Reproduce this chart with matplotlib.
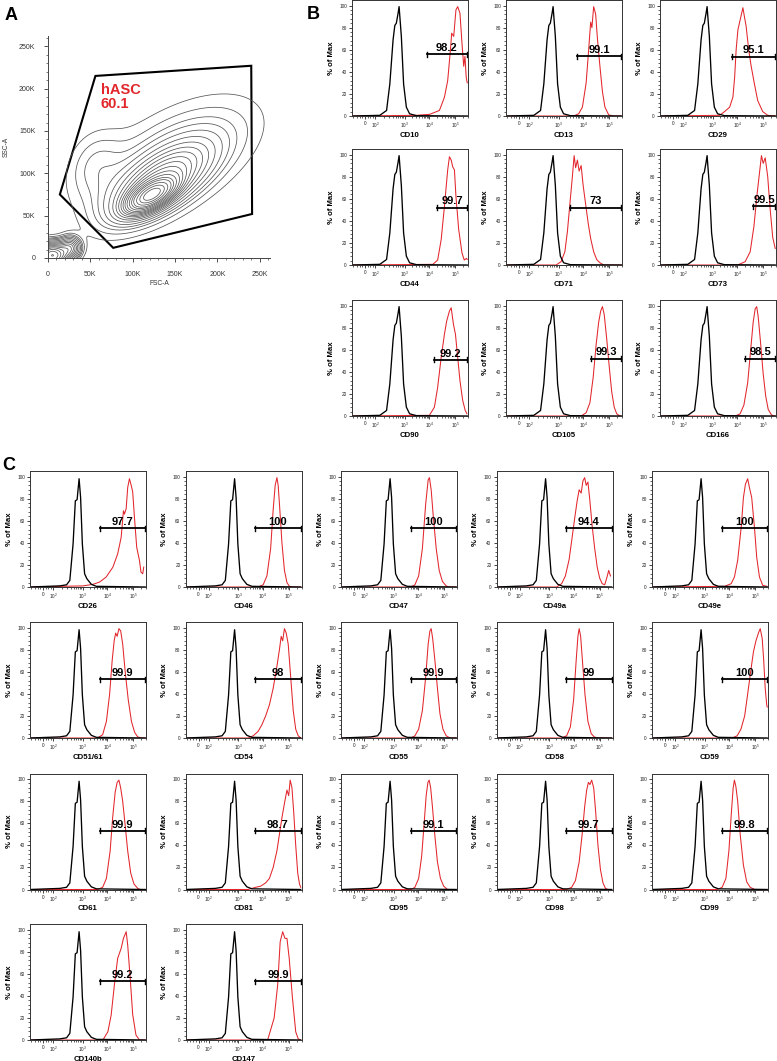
import matplotlib
matplotlib.use("Agg")
import matplotlib.pyplot as plt
import numpy as np

plt.rcParams['font.family'] = ['Liberation Sans', 'DejaVu Sans']
plt.rcParams['mathtext.fontset'] = 'custom'
plt.rcParams['mathtext.rm'] = 'Liberation Sans'
plt.rcParams['mathtext.it'] = 'Liberation Sans'

RED = '#e2262c'
W, H = 777, 1061

# ---------------- panel A: FSC/SSC contour -----------------
fsc_ticks = [0, 50000, 100000, 150000, 200000, 250000]
fsc_labels = ['0', '50K', '100K', '150K', '200K', '250K']
gate_fsc = [14000, 56000, 240000, 241000, 77000]
gate_ssc = [75000, 215000, 227000, 52000, 12000]
gate_name = 'hASC\n60.1'

# cell populations (centre, spread, tilt, share)
pop_fsc = [122000, 132000, 150000, 55000, 5000, 26000]
pop_ssc = [74000, 90000, 118000, 110000, 3000, 12000]
pop_sd_fsc = [17000, 35000, 62000, 22000, 11000, 8000]
pop_sd_ssc = [12000, 27000, 45000, 28000, 9000, 8000]
pop_corr = [0.6, 0.65, 0.55, 0.2, 0.0, 0.0]
pop_share = [0.22, 0.36, 0.3, 0.04, 0.1, 0.025]

# ---------------- histogram panels (x in display decades) -----------------
U_LEFT, U_RIGHT = 0.9, 5.5
x_tick_pos = [1.42, 1.83, 3.0, 3.98, 5.03]
x_tick_lab = ['0', '$10^2$', '$10^3$', '$10^4$', '$10^5$']

black_b_u = [0.9, 2.01, 2.28, 2.41, 2.54, 2.61, 2.67, 2.74, 2.78, 2.87, 2.96, 3.07, 3.2, 3.47, 5.5]
black_b_y = [0, 0.6, 5, 29, 69, 82, 84, 93, 99, 72, 29, 8, 2, 0.3, 0]
black_c_u = [0.9, 2.09, 2.36, 2.49, 2.62, 2.71, 2.78, 2.86, 2.92, 2.99, 3.08, 3.17, 3.35, 3.55, 5.5]
black_c_y = [0, 1, 2, 6, 39, 78, 79, 98, 81, 39, 12, 7.5, 2.4, 0.6, 0]

b_names = ['CD10', 'CD13', 'CD29', 'CD44', 'CD71', 'CD73', 'CD90', 'CD105', 'CD166']
b_pct = ['98.2', '99.1', '95.1', '99.7', '73', '99.5', '99.2', '99.3', '98.5']
b_gate_u = [3.88, 3.75, 3.78, 4.29, 3.45, 4.6, 4.16, 4.3, 4.3]
b_gate_y = [55.8, 54, 53.6, 52, 52, 53, 50.8, 52, 52]
b_red_u = [
    [0.9, 3.47, 4.0, 4.39, 4.59, 4.72, 4.83, 4.88, 4.96, 5.05, 5.12, 5.21, 5.29, 5.36, 5.41, 5.46, 5.5],
    [0.9, 3.6, 3.8, 3.95, 4.1, 4.2, 4.28, 4.33, 4.4, 4.48, 4.55, 4.65, 4.75, 4.85, 5.0, 5.2, 5.5],
    [0.9, 3.28, 3.48, 3.68, 3.81, 3.88, 3.94, 4.01, 4.10, 4.21, 4.27, 4.34, 4.44, 4.54, 4.67, 4.80, 5.0, 5.2, 5.5],
    [0.9, 4.13, 4.32, 4.46, 4.59, 4.72, 4.79, 4.86, 4.92, 4.99, 5.05, 5.16, 5.29, 5.38, 5.47, 5.5],
    [0.9, 2.9, 3.1, 3.25, 3.35, 3.45, 3.55, 3.62, 3.68, 3.75, 3.82, 3.9, 3.98, 4.08, 4.18, 4.28, 4.4, 4.52, 4.65, 4.8, 5.5],
    [0.9, 4.0, 4.3, 4.5, 4.65, 4.78, 4.88, 4.95, 5.02, 5.1, 5.2, 5.3, 5.4, 5.5],
    [0.9, 3.99, 4.19, 4.32, 4.46, 4.59, 4.68, 4.79, 4.86, 4.95, 5.03, 5.12, 5.21, 5.32, 5.42, 5.49],
    [0.9, 3.9, 4.1, 4.25, 4.38, 4.5, 4.6, 4.68, 4.75, 4.82, 4.92, 5.02, 5.12, 5.22, 5.32, 5.45, 5.5],
    [0.9, 3.9, 4.1, 4.25, 4.4, 4.52, 4.62, 4.7, 4.76, 4.82, 4.92, 5.02, 5.12, 5.22, 5.35, 5.45, 5.5],
]
b_red_y = [
    [0, 0.6, 1.5, 5, 17, 32, 60, 75, 72, 96, 99, 93, 66, 45, 54, 35, 30],
    [0, 0, 2, 8, 30, 60, 85, 80, 99, 92, 70, 45, 22, 8, 1, 0, 0],
    [0, 0.6, 4, 8, 17, 35, 60, 78, 87, 98, 90, 81, 60, 45, 29, 14, 4, 0.6, 0],
    [0, 0.6, 4.5, 23, 53, 86, 98, 95, 89, 86, 62, 32, 11, 4.5, 6, 5],
    [0, 0, 3, 12, 30, 55, 80, 99, 88, 95, 85, 90, 72, 55, 38, 24, 12, 5, 2, 0, 0],
    [0, 0, 3, 12, 35, 65, 85, 99, 92, 97, 80, 50, 25, 15],
    [0, 0.6, 8, 26, 53, 74, 86, 95, 98, 83, 74, 53, 32, 14, 5, 2],
    [0, 0, 3, 12, 35, 65, 85, 95, 99, 92, 70, 45, 22, 8, 2, 0, 0],
    [0, 0, 2, 10, 30, 60, 85, 97, 99, 90, 65, 38, 18, 6, 1, 0, 0],
]

c_names = ['CD26', 'CD46', 'CD47', 'CD49a', 'CD49e',
           'CD51/61', 'CD54', 'CD55', 'CD58', 'CD59',
           'CD61', 'CD81', 'CD95', 'CD98', 'CD99',
           'CD140b', 'CD147']
c_pct = ['97.7', '100', '100', '94.4', '100',
         '99.9', '98', '99.9', '99', '100',
         '99.9', '98.7', '99.1', '99.7', '99.8',
         '99.2', '99.9']
c_gate_u = [3.68] * 17
c_gate_y = [53] * 17
c_red_u = [
    [0.9, 3.02, 3.41, 3.68, 3.94, 4.21, 4.40, 4.54, 4.63, 4.67, 4.74, 4.80, 4.87, 4.94, 5.00, 5.07, 5.16, 5.27, 5.33, 5.40, 5.44],
    [0.9, 3.8, 4.0, 4.15, 4.3, 4.4, 4.48, 4.55, 4.6, 4.66, 4.75, 4.85, 4.95, 5.05, 5.2, 5.5],
    [0.9, 3.7, 3.85, 4.0, 4.15, 4.28, 4.38, 4.43, 4.5, 4.58, 4.7, 4.82, 4.95, 5.1, 5.2, 5.5],
    [0.9, 3.3, 3.5, 3.65, 3.8, 3.92, 4.02, 4.12, 4.2, 4.28, 4.35, 4.42, 4.48, 4.55, 4.62, 4.72, 4.82, 4.92, 5.02, 5.12, 5.22, 5.3, 5.38, 5.45],
    [0.9, 3.80, 4.06, 4.19, 4.32, 4.46, 4.55, 4.63, 4.72, 4.79, 4.88, 4.99, 5.08, 5.19, 5.32, 5.49],
    [0.9, 3.6, 3.8, 3.95, 4.08, 4.18, 4.26, 4.32, 4.38, 4.45, 4.52, 4.6, 4.7, 4.82, 4.95, 5.08, 5.2, 5.35, 5.5],
    [0.9, 3.4, 3.6, 3.8, 3.95, 4.1, 4.25, 4.4, 4.55, 4.65, 4.72, 4.78, 4.85, 4.92, 5.0, 5.1, 5.2, 5.3, 5.4, 5.5],
    [0.9, 3.7, 3.85, 4.0, 4.15, 4.28, 4.38, 4.45, 4.5, 4.56, 4.65, 4.75, 4.85, 4.97, 5.1, 5.25, 5.5],
    [0.9, 3.5, 3.7, 3.85, 3.98, 4.08, 4.15, 4.2, 4.26, 4.33, 4.43, 4.55, 4.68, 4.8, 4.95, 5.5],
    [0.9, 4.1, 4.3, 4.45, 4.6, 4.72, 4.85, 4.95, 5.05, 5.15, 5.22, 5.3, 5.36, 5.42, 5.48, 5.5],
    [0.9, 3.6, 3.8, 3.95, 4.1, 4.2, 4.3, 4.38, 4.45, 4.52, 4.6, 4.7, 4.8, 4.92, 5.05, 5.2, 5.3, 5.5],
    [0.9, 3.4, 3.7, 3.9, 4.1, 4.25, 4.4, 4.55, 4.65, 4.75, 4.85, 4.95, 5.02, 5.08, 5.15, 5.22, 5.3, 5.38, 5.45, 5.5],
    [0.9, 3.7, 3.85, 4.0, 4.12, 4.22, 4.3, 4.37, 4.42, 4.48, 4.55, 4.65, 4.75, 4.87, 5.0, 5.15, 5.5],
    [0.9, 3.7, 3.9, 4.05, 4.2, 4.32, 4.42, 4.5, 4.57, 4.63, 4.7, 4.78, 4.86, 4.95, 5.05, 5.15, 5.25, 5.35, 5.5],
    [0.9, 3.5, 3.7, 3.85, 3.97, 4.07, 4.14, 4.19, 4.25, 4.32, 4.42, 4.55, 4.68, 4.82, 5.0, 5.5],
    [0.9, 3.81, 4.01, 4.14, 4.27, 4.40, 4.54, 4.63, 4.74, 4.80, 4.90, 5.00, 5.13, 5.27, 5.5],
    [0.9, 4.18, 4.44, 4.58, 4.68, 4.78, 4.87, 4.95, 5.04, 5.17, 5.30, 5.4, 5.5],
]
c_red_y = [
    [0, 1, 2.4, 4.5, 9, 18, 30, 45, 69, 66, 71, 90, 98, 92, 86, 63, 36, 24, 13.5, 12, 18],
    [0, 0, 2, 10, 35, 70, 92, 99, 92, 72, 40, 15, 4, 0.5, 0, 0],
    [0, 0, 2, 10, 35, 75, 97, 99, 88, 65, 35, 15, 5, 1, 0, 0],
    [0, 0, 3, 10, 25, 45, 62, 78, 88, 85, 96, 99, 92, 95, 80, 55, 35, 18, 8, 3, 2, 8, 15, 10],
    [0, 0.6, 3, 9, 24, 54, 81, 93, 98, 90, 81, 54, 27, 9, 1.5, 0.6],
    [0, 0, 3, 15, 40, 70, 88, 95, 92, 99, 97, 85, 60, 35, 15, 5, 1, 0, 0],
    [0, 0, 2, 6, 12, 20, 30, 45, 65, 80, 92, 88, 99, 95, 85, 55, 25, 8, 2, 0],
    [0, 0, 2, 8, 25, 55, 85, 97, 99, 90, 70, 45, 22, 8, 2, 0, 0],
    [0, 0, 2, 10, 35, 70, 92, 99, 92, 70, 40, 15, 4, 1, 0, 0],
    [0, 0, 2, 8, 20, 40, 62, 78, 88, 95, 99, 90, 70, 45, 30, 28],
    [0, 0, 2, 10, 35, 65, 88, 97, 99, 92, 80, 58, 35, 15, 5, 1, 0, 0],
    [0, 0, 2, 3, 6, 10, 20, 35, 50, 65, 78, 90, 85, 99, 92, 70, 40, 15, 5, 2],
    [0, 0, 2, 10, 30, 60, 85, 97, 99, 92, 75, 48, 25, 10, 3, 0, 0],
    [0, 0, 2, 8, 25, 50, 75, 90, 97, 95, 99, 92, 70, 40, 18, 6, 1, 0, 0],
    [0, 0, 2, 10, 35, 70, 92, 99, 93, 80, 50, 22, 7, 2, 0, 0],
    [0, 0, 7.5, 22.6, 50, 74, 83, 92, 98, 86, 56, 23, 4.5, 0, 0],
    [0, 0, 20, 50, 89, 98, 92, 92, 74, 38, 7.5, 1, 0],
]

# layout in pixels (axes boxes)
HW = 116                       # histogram axes width
HH = 116                       # histogram axes height (0..105)
b_left = [352, 506, 660]
b_base = [116, 265, 416]       # y pixel of the 0 line
c_left = [30, 185.5, 341, 496.5, 652]
c_base = [587, 738, 889.5, 1040]

fig = plt.figure(figsize=(W / 100, H / 100), dpi=100)


def px_axes(left, top, width, height):
    return fig.add_axes([left / W, 1 - (top + height) / H, width / W, height / H])


# ---------- panel A ----------
axA = px_axes(48, 36, 222, 222)
gx = np.linspace(0, 262144, 400)
gy = np.linspace(0, 262144, 400)
X, Y = np.meshgrid(gx, gy)
Z = np.zeros_like(X)
for mx, my, sx, sy, r, w in zip(pop_fsc, pop_ssc, pop_sd_fsc, pop_sd_ssc, pop_corr, pop_share):
    dx = (X - mx) / sx
    dy = (Y - my) / sy
    q = (dx ** 2 - 2 * r * dx * dy + dy ** 2) / (1 - r ** 2)
    Z += w * np.exp(-0.5 * q) / (2 * np.pi * sx * sy * np.sqrt(1 - r ** 2))
zs = np.sort(Z.ravel())[::-1]
cum = np.cumsum(zs)
cum /= cum[-1]
levels = sorted(set(zs[np.searchsorted(cum, p)] for p in np.arange(0.05, 0.98, 0.05)))
axA.contour(X, Y, Z, levels=levels, colors='#555555', linewidths=0.55)
axA.fill(gate_fsc, gate_ssc, fill=False, edgecolor='black', lw=1.5, joinstyle='miter')
axA.text(62000, 207000, gate_name, color=RED, fontsize=10.5, fontweight='bold',
         va='top', ha='left', linespacing=1.0)
axA.set_xlim(0, 262144)
axA.set_ylim(0, 262144)
axA.set_xticks(fsc_ticks)
axA.set_xticklabels(fsc_labels)
axA.set_yticks(fsc_ticks)
axA.set_yticklabels(fsc_labels)
axA.set_xticks(np.arange(0, 262144, 10000), minor=True)
axA.set_yticks(np.arange(0, 262144, 10000), minor=True)
for s in ['top', 'right']:
    axA.spines[s].set_visible(False)
for s in ['left', 'bottom']:
    axA.spines[s].set_linewidth(0.7)
    axA.spines[s].set_color('#444444')
axA.tick_params(which='major', length=3, width=0.6, labelsize=5, pad=6, colors='#333333')
axA.tick_params(which='minor', length=1.5, width=0.5, colors='#444444')
axA.set_xlabel('FSC-A', fontsize=4.8, labelpad=2, color='#333333')
axA.set_ylabel('SSC-A', fontsize=4.8, labelpad=7, color='#333333')

fig.text(5 / W, 1 - 20 / H, 'A', fontsize=13, fontweight='bold')
fig.text(307 / W, 1 - 19 / H, 'B', fontsize=13, fontweight='bold')
fig.text(2 / W, 1 - 470 / H, 'C', fontsize=13, fontweight='bold')

# minor ticks on the biexponential axis
x_minor = ([0.95, 1.08, 1.2, 1.31, 1.53, 1.63, 1.72]
           + [x_tick_pos[1] + (x_tick_pos[2] - x_tick_pos[1]) * np.log10(k) for k in range(2, 10)]
           + [x_tick_pos[2] + (x_tick_pos[3] - x_tick_pos[2]) * np.log10(k) for k in range(2, 10)]
           + [x_tick_pos[3] + (x_tick_pos[4] - x_tick_pos[3]) * np.log10(k) for k in range(2, 10)]
           + [x_tick_pos[4] + (x_tick_pos[4] - x_tick_pos[3]) * np.log10(k) for k in range(2, 4)])


def histogram(left, base, name, pct, gu, gyv, ru, ry, bu, by):
    ax = px_axes(left, base - HH, HW, HH)
    ax.plot(ru, ry, color=RED, lw=0.75)
    ax.plot(bu, by, color='black', lw=0.95)
    ax.set_xlim(U_LEFT, U_RIGHT)
    ax.set_ylim(0, 105)
    # gate bar
    ax.plot([gu, U_RIGHT], [gyv, gyv], color='black', lw=1.3, clip_on=False)
    ax.plot([gu, gu], [gyv - 2.3, gyv + 2.3], color='black', lw=1.0, clip_on=False)
    ax.plot([U_RIGHT, U_RIGHT], [gyv - 2.3, gyv + 2.3], color='black', lw=1.0, clip_on=False)
    ax.text((gu + U_RIGHT) / 2, gyv + 1.2, pct, ha='center', va='bottom',
            fontsize=8, fontweight='bold')
    ax.set_xticks(x_tick_pos)
    ax.set_xticklabels(x_tick_lab)
    ax.set_xticks(x_minor, minor=True)
    ax.set_yticks([0, 20, 40, 60, 80, 100])
    ax.set_yticks(np.arange(0, 104, 4), minor=True)
    ax.tick_params(which='major', length=2.5, width=0.6, labelsize=3.4, pad=1.2, colors='#222222')
    ax.tick_params(which='minor', length=1.3, width=0.5, colors='#222222')
    for s in ax.spines.values():
        s.set_linewidth(0.7)
        s.set_color('#333333')
    ax.set_xlabel(name, fontsize=5.6, fontweight='bold', labelpad=0.8)
    ax.set_ylabel('% of Max', fontsize=5.6, fontweight='bold', labelpad=3)
    return ax


for i, name in enumerate(b_names):
    r, c = divmod(i, 3)
    histogram(b_left[c], b_base[r], name, b_pct[i], b_gate_u[i], b_gate_y[i],
              b_red_u[i], b_red_y[i], black_b_u, black_b_y)

for i, name in enumerate(c_names):
    r, c = divmod(i, 5)
    histogram(c_left[c], c_base[r], name, c_pct[i], c_gate_u[i], c_gate_y[i],
              c_red_u[i], c_red_y[i], black_c_u, black_c_y)

fig.savefig('out.png', dpi=100)
